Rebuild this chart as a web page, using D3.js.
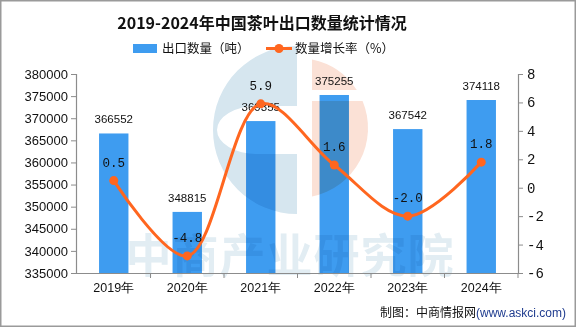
<!DOCTYPE html>
<html>
<head>
<meta charset="utf-8">
<script src="https://cdn.jsdelivr.net/npm/d3@7/dist/d3.min.js"></script>
<style>
  html, body { margin: 0; padding: 0; background: #fff; }
  svg { display: block; }
</style>
</head>
<body>
<svg id="chart" width="576" height="327"></svg>
<script>
// Tea export volume (tonnes) and year-on-year growth (%)
const years = ["2019年", "2020年", "2021年", "2022年", "2023年", "2024年"];
const exportVolume = [366552, 348815, 369355, 375255, 367542, 374118];
const growthRate = [0.5, -4.8, 5.9, 1.6, -2.0, 1.8];
const growthLabels = ["0.5", "-4.8", "5.9", "1.6", "-2.0", "1.8"];
const leftTicks = [335000, 340000, 345000, 350000, 355000, 360000, 365000, 370000, 375000, 380000];
const rightTicks = [-6, -4, -2, 0, 2, 4, 6, 8];

const title = "2019-2024年中国茶叶出口数量统计情况";
const legendBar = "出口数量（吨）";
const legendLine = "数量增长率（%）";
const watermark = "中商产业研究院";

const BAR = "#3e9cf0";
const LINE = "#ff661f";
const AXIS = "#8c8c8c";

const svg = d3.select("#chart");
const W = 576, H = 327;
const m = { left: 77, right: 518, top: 74, bottom: 273 };

// frame
svg.append("rect").attr("x", 0.75).attr("y", 0.75).attr("width", W - 1.5).attr("height", H - 1.5)
  .attr("fill", "#fff").attr("stroke", "#9a9a9a").attr("stroke-width", 1.5);

const x = d3.scaleBand().domain(years).range([m.left, m.right]).paddingInner(0).paddingOuter(0);
const yL = d3.scaleLinear().domain([335000, 380000]).range([m.bottom, m.top]);
const yR = d3.scaleLinear().domain([-6, 8]).range([m.bottom, m.top]);
const barW = x.bandwidth() * 0.4;

// bars
svg.append("g").selectAll("rect").data(exportVolume).join("rect")
  .attr("x", (d, i) => x(years[i]) + (x.bandwidth() - barW) / 2)
  .attr("y", d => yL(d))
  .attr("width", barW)
  .attr("height", d => yL(335000) - yL(d))
  .attr("fill", BAR);

// faint logo + company watermark
const wm = svg.append("g").style("mix-blend-mode", "multiply");
const cx = 297, cy = 130, r = 84;
wm.append("path")
  .attr("d", `M${cx},${cy - r} A${r},${r} 0 0 0 ${cx},${cy + r} L${cx},${cy + 24} ` +
             `L${cx - 40},${cy + 24} A40,24 0 0 1 ${cx - 40},${cy - 24} L${cx},${cy - 24} Z`)
  .attr("fill", "#d6e6ef");
const sx = 312;
const rs = 70, scy = 128, scx = 298;
wm.append("path")
  .attr("d", (() => {
    const dx1 = Math.sqrt(rs * rs - (scy - 90) ** 2);
    const topY = scy - Math.sqrt(rs * rs - (sx - scx) ** 2);
    return `M${sx},${topY} A${rs},${rs} 0 0 1 ${scx + dx1},90 L${sx},90 Z`;
  })())
  .attr("fill", "#fbe1d6");
wm.append("path")
  .attr("d", (() => {
    const dx2 = Math.sqrt(rs * rs - (scy - 101) ** 2);
    const botY = scy + Math.sqrt(rs * rs - (sx - scx) ** 2);
    return `M${sx},101 L${scx + dx2},101 A${rs},${rs} 0 0 1 ${sx},${botY} Z`;
  })())
  .attr("fill", "#fbe1d6");
wm.append("text")
  .attr("x", 290).attr("y", 272)
  .attr("text-anchor", "middle")
  .attr("font-family", "Noto Sans CJK SC")
  .attr("font-weight", "bold")
  .attr("font-size", 46)
  .attr("letter-spacing", 1)
  .attr("fill", "#e2edf3")
  .text(watermark);

// axes
const axL = svg.append("g").attr("transform", `translate(${m.left},0)`)
  .call(d3.axisLeft(yL).tickValues(leftTicks).tickSize(6).tickPadding(3).tickFormat(d3.format("d")));
const axR = svg.append("g").attr("transform", `translate(${m.right},0)`)
  .call(d3.axisRight(yR).tickValues(rightTicks).tickSize(5).tickPadding(4).tickFormat(d => d));
const axB = svg.append("g").attr("transform", `translate(0,${m.bottom})`)
  .call(d3.axisBottom(x).tickSize(0).tickPadding(10));
// boundary ticks between categories
svg.append("g").selectAll("line").data(years.slice(1).concat(["end"])).join("line")
  .attr("x1", (d, i) => m.left + x.bandwidth() * (i + 1))
  .attr("x2", (d, i) => m.left + x.bandwidth() * (i + 1))
  .attr("y1", m.bottom).attr("y2", m.bottom + 5)
  .attr("stroke", AXIS);

[axL, axR, axB].forEach(g => {
  g.select(".domain").attr("stroke", AXIS).attr("stroke-width", 1.2);
  g.selectAll(".tick line").attr("stroke", AXIS);
  g.selectAll("text").attr("fill", "#111").attr("font-size", 13).attr("font-family", "Liberation Sans");
});
axB.select(".domain").attr("d", `M${m.left},0.5H${m.right}`);
axL.select(".domain").attr("d", `M-0.5,${m.top}V${m.bottom}`);
axR.select(".domain").attr("d", `M0.5,${m.top}V${m.bottom}`);
axR.selectAll("text").attr("font-family", "Liberation Mono").attr("font-size", 14);
axB.selectAll("text").attr("font-size", 12.5);

// bar value labels
svg.append("g").selectAll("text").data(exportVolume).join("text")
  .attr("x", (d, i) => x(years[i]) + x.bandwidth() / 2)
  .attr("y", d => yL(d) - 10)
  .attr("text-anchor", "middle")
  .attr("font-family", "Liberation Sans").attr("font-size", 11.5).attr("fill", "#111")
  .text(d => d);

// growth line
const pts = growthRate.map((d, i) => [x(years[i]) + x.bandwidth() / 2, yR(d)]);
svg.append("path")
  .attr("d", d3.line().curve(d3.curveCatmullRom.alpha(0.5))(pts))
  .attr("fill", "none").attr("stroke", LINE).attr("stroke-width", 3);
svg.append("g").selectAll("circle").data(pts).join("circle")
  .attr("cx", d => d[0]).attr("cy", d => d[1]).attr("r", 4.5).attr("fill", LINE);

svg.append("g").selectAll("text").data(growthRate).join("text")
  .attr("x", (d, i) => pts[i][0])
  .attr("y", (d, i) => pts[i][1] - 14)
  .attr("text-anchor", "middle")
  .attr("font-family", "Liberation Mono").attr("font-size", 12.5).attr("fill", "#111")
  .text((d, i) => growthLabels[i]);

// title
svg.append("text").attr("x", 262).attr("y", 29).attr("text-anchor", "middle")
  .attr("font-family", "Noto Sans CJK SC").attr("font-weight", "bold").attr("font-size", 16)
  .attr("fill", "#111").text(title);

// legend
svg.append("rect").attr("x", 133).attr("y", 44).attr("width", 24).attr("height", 9).attr("fill", BAR);
svg.append("text").attr("x", 162).attr("y", 53)
  .attr("font-family", "Noto Sans CJK SC").attr("font-size", 12.5).attr("fill", "#111").text(legendBar);
svg.append("line").attr("x1", 266).attr("x2", 292).attr("y1", 48.5).attr("y2", 48.5)
  .attr("stroke", LINE).attr("stroke-width", 3);
svg.append("circle").attr("cx", 279).attr("cy", 48.5).attr("r", 4.5).attr("fill", LINE);
svg.append("text").attr("x", 295).attr("y", 53)
  .attr("font-family", "Noto Sans CJK SC").attr("font-size", 12.5).attr("fill", "#111").text(legendLine);

// source note
const src = svg.append("text").attr("x", 566).attr("y", 317).attr("text-anchor", "end")
  .attr("font-family", "Noto Sans CJK SC").attr("font-size", 12);
src.append("tspan").attr("fill", "#111").text("制图：中商情报网");
src.append("tspan").attr("fill", "#1f3c8f").attr("font-family", "Liberation Sans").text("(www.askci.com)");
</script>
</body>
</html>
